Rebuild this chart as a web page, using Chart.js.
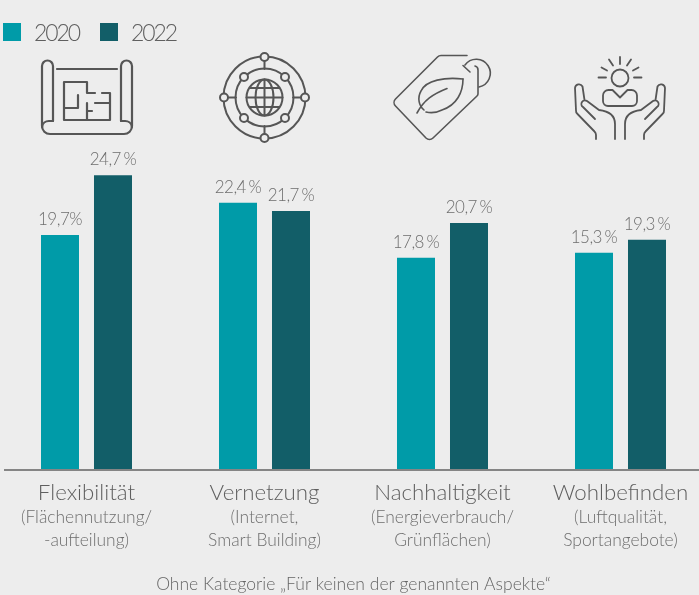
<!DOCTYPE html>
<html lang="de"><head><meta charset="utf-8">
<style>
html,body{margin:0;padding:0;background:#ededed;width:699px;height:595px;overflow:hidden}
#wrap{position:relative;width:699px;height:595px;overflow:hidden}
canvas{position:absolute;left:-3px;top:0}
#icons{position:absolute;left:0;top:0;pointer-events:none}
.lg{position:absolute;top:23px;width:18px;height:18px}
.lt{position:absolute;top:17px;font:300 23px Lato,sans-serif;letter-spacing:-2.1px;color:#5f5f5f;line-height:30px}
</style></head><body><div id="wrap">
<canvas id="c" width="713" height="595"></canvas>
<div id="legend"></div>
<svg id="icons" width="699" height="595" fill="none" stroke="#565656" stroke-width="2" stroke-linecap="round" stroke-linejoin="round">
 <g stroke-width="2.2">
  <path d="M53 121V66a5.5 5.5 0 0 0-11 0V126a8 8 0 0 0 8 8H124a8 8 0 0 0 8-8V66a5.500 5.500 0 0 0-11 0V121"/>
  <path d="M53 121H49a7 7 0 0 0-7 6M121 121H125a7 7 0 0 1 7 6M57 69H117"/>
  <path d="M95 93H87V82H64V120H110V93H102M64 108H78V95M87 103V120M87 111H92M95 103H110"/>
 </g>
 <g>
  <circle cx="264.500" cy="97.500" r="41"/><circle cx="264.500" cy="97.500" r="29"/><circle cx="264.500" cy="97.500" r="18"/>
  <path d="M264.500 61V69M264.500 126V134M228 97.500H236M293 97.500H301"/>
  <path d="M264.500 79.500V115.500M246.500 97.500H282.500M250 88H279M250 107H279"/>
  <ellipse cx="264.500" cy="97.500" rx="9" ry="18"/>
  <g fill="#ededed">
   <circle cx="264.500" cy="57" r="4"/><circle cx="264.500" cy="138" r="4"/><circle cx="224" cy="97.500" r="4"/><circle cx="305" cy="97.500" r="4"/>
   <circle cx="244" cy="77" r="4"/><circle cx="285" cy="77" r="4"/><circle cx="244" cy="118" r="4"/><circle cx="285" cy="118" r="4"/>
  </g>
 </g>
 <g stroke-width="1.600">
  <path d="M467 55.500H441a5 5 0 0 0-3.500 1.500L395.500 99a5 5 0 0 0 0 7L426 138a5 5 0 0 0 7 0L477 96a3 3 0 0 0 1-2.500V70a4 4 0 0 0-3-4"/>
  <path d="M463 65.500L470 72M465 65a14 14 0 1 1 14 22"/>
  <path d="M463 79C445 77 426 80 421 91C417 98 419 106 424 110"/>
  <path d="M463 79C463 92 457 105 442 110C436 113 430 113 426 112"/>
  <path d="M417 113C424 100 433 94 447 88.500"/>
 </g>
 <g stroke-width="1.800">
  <circle cx="620" cy="78" r="8.500"/>
  <path d="M620 57V64M609 59.500L613 65.500M631 59.500L627 65.500M601.500 67.500L607 70.500M638.500 67.500L633 70.500M598.500 77.500H606M634 77.500H641.500"/>
  <path d="M620 97.500L612.500 90H608.500a5.500 5.500 0 0 0-5.500 5.500V101a5 5 0 0 0 5 5H632a5 5 0 0 0 5-5V95.500a5.500 5.500 0 0 0-5.500-5.500H627.500Z"/>
  <path id="hand" d="M596 139V135a5 5 0 0 0-1.500-3.500L577.500 114a4 4 0 0 1-1.500-3.500L575 88a4 4 0 0 1 7.500-1.500L584.500 100M595 119L583 107a3.500 3.500 0 0 1 4-6L599 110C608 111 615 114 615 124V139"/>
  <use href="#hand" transform="matrix(-1 0 0 1 1240 0)"/>
 </g>
</svg>
</div>
<script src="https://cdn.jsdelivr.net/npm/chart.js@4"></script>
<script>
const categories=["Flexibilität","Vernetzung","Nachhaltigkeit","Wohlbefinden"];
const subLabels=[["(Flächennutzung/","-aufteilung)"],["(Internet,","Smart Building)"],["(Energieverbrauch/","Grünflächen)"],["(Luftqualität,","Sportangebote)"]];
const seriesNames=["2020","2022"];
const values2020=[19.7,22.4,17.8,18.2];
const values2022=[24.7,21.7,20.7,19.3];
const text2020=["19,7%","22,4 %","17,8 %","15,3 %"];
const text2022=["24,7 %","21,7 %","20,7 %","19,3 %"];
const colors=["#009ba8","#125e68"];
const footnote="Ohne Kategorie „Für keinen der genannten Aspekte“";
const FONT="Lato, sans-serif";
const legendX=[3,100],legendTextX=[34,131];
const lg=document.getElementById('legend');
seriesNames.forEach((n,i)=>{
 const b=document.createElement('div');b.className='lg';b.style.left=legendX[i]+'px';b.style.background=colors[i];lg.appendChild(b);
 const t=document.createElement('div');t.className='lt';t.style.left=legendTextX[i]+'px';t.textContent=n;lg.appendChild(t);
});
const valueText={id:'valueText',afterDatasetsDraw(ch){
 const c=ch.ctx;c.save();c.font='300 17px '+FONT;c.fillStyle='#6e6e6e';c.textAlign='center';c.textBaseline='alphabetic';
 c.wordSpacing='-1.5px';c.letterSpacing='-0.5px';
 [text2020,text2022].forEach((arr,d)=>ch.getDatasetMeta(d).data.forEach((el,i)=>c.fillText(arr[i],el.x,el.y-10)));
 c.restore();}};
const baseLine={id:'baseLine',afterDatasetsDraw(ch){
 const c=ch.ctx,y=ch.scales.y.getPixelForValue(0);c.save();c.strokeStyle='#858585';c.lineWidth=2;c.beginPath();c.moveTo(7,y);c.lineTo(713,y);c.stroke();c.restore();}};
const noClip=s=>{s._computeLabelArea=()=>undefined;};
new Chart(document.getElementById('c'),{type:'bar',
 data:{labels:categories,datasets:[
  {label:seriesNames[0],data:values2020,backgroundColor:colors[0]},
  {label:seriesNames[1],data:values2022,backgroundColor:colors[1]}]},
 plugins:[valueText,baseLine],
 options:{responsive:false,animation:false,
  layout:{padding:{left:0.5,right:0.5,top:52,bottom:0}},
  datasets:{bar:{categoryPercentage:0.5955,barPercentage:0.717}},
  plugins:{legend:{display:false},tooltip:{enabled:false},
   title:{display:true,position:'bottom',text:footnote,color:'#666',font:{family:FONT,size:17.5,weight:'300'},padding:{top:31,bottom:0}}},
  scales:{
   y:{display:false,min:0,max:35.04},
   x:{afterFit:noClip,grid:{display:false,drawTicks:false},border:{display:false},ticks:{color:'#5f5f5f',font:{family:FONT,size:22.3,weight:'300'},padding:9,maxRotation:0,autoSkip:false}},
   x2:{afterFit:noClip,type:'category',position:'bottom',labels:subLabels,grid:{display:false,drawTicks:false},border:{display:false},ticks:{color:'#6e6e6e',font:{family:FONT,size:17.4,weight:'300',lineHeight:1.33},padding:-9,maxRotation:0,autoSkip:false}}
  }}});
</script></body></html>
